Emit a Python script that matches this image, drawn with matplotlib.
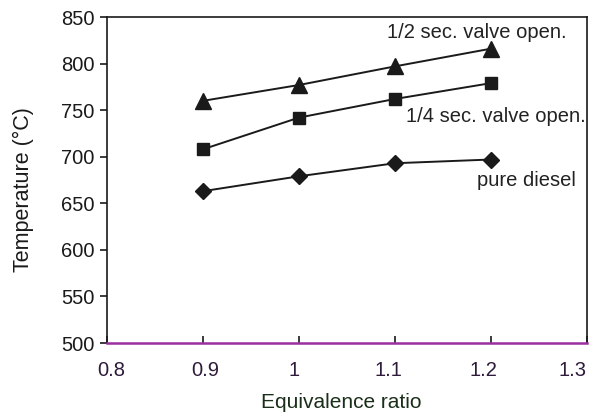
import matplotlib
matplotlib.use("Agg")
import matplotlib.pyplot as plt
from matplotlib.transforms import blended_transform_factory, offset_copy

plt.rcParams['font.family'] = ['Liberation Sans', 'DejaVu Sans']

x = [0.9, 1.0, 1.1, 1.2]
half_sec = [760, 777, 797, 816]
quarter_sec = [708, 742, 762, 779]
pure_diesel = [663, 679, 693, 697]
xticks = [0.8, 0.9, 1, 1.1, 1.2, 1.3]
xtick_labels = ['0.8', '0.9', '1', '1.1', '1.2', '1.3']
yticks = [500, 550, 600, 650, 700, 750, 800, 850]

fig = plt.figure(figsize=(5.89, 4.13), dpi=100)
ax = fig.add_axes([107/589, 1-343/413, (587-107)/589, (343-17)/413])

ink = '#1a1a1a'
ax.plot(x, half_sec, color=ink, lw=1.4, marker='^', ms=11, mfc=ink, mec=ink)
ax.plot(x, quarter_sec, color=ink, lw=1.4, marker='s', ms=8.5, mfc=ink, mec=ink)
ax.plot(x, pure_diesel, color=ink, lw=1.4, marker='D', ms=8, mfc=ink, mec=ink)

ax.text(1.0917, 833, '1/2 sec. valve open.', fontsize=14.5, color='#222', ha='left', va='center')
ax.text(1.1115, 743, '1/4 sec. valve open.', fontsize=14.5, color='#222', ha='left', va='center')
ax.text(1.1854, 675, 'pure diesel', fontsize=14.5, color='#222', ha='left', va='center')

ax.set_xlim(0.8, 1.3)
ax.set_ylim(500, 850)
ax.set_xticks(xticks)
ax.set_xticklabels([])
ax.set_yticks(yticks)
ax.tick_params(axis='x', direction='in', length=5, width=1.2, colors=ink)
ax.tick_params(axis='y', direction='out', length=5, width=1.2, labelsize=14.5, pad=4, colors=ink)

# x tick labels (scanned original shows slight drift of labels relative to ticks)
label_shift_px = [4, 2, -5, -7, -7.5, -14]
base = blended_transform_factory(ax.transData, ax.transAxes)
for xv, lab, dx in zip(xticks, xtick_labels, label_shift_px):
    tr = offset_copy(base, fig=fig, x=dx, y=-27, units='dots')
    ax.text(xv, 0, lab, transform=tr, fontsize=14.5, color='#2e1a3a',
            ha='center', va='center', clip_on=False)

for s in ['top', 'right', 'left']:
    ax.spines[s].set_color(ink)
    ax.spines[s].set_linewidth(1.2)
ax.spines['bottom'].set_color('#9a30a0')
ax.spines['bottom'].set_linewidth(1.8)

ax.set_xlabel('Equivalence ratio', fontsize=15, color='#1a2e1a')
ax.xaxis.set_label_coords((341.5-107)/480, -(402-343)/326, transform=ax.transAxes)
ax.set_ylabel('Temperature (°C)', fontsize=15.5, color=ink)
ax.yaxis.set_label_coords(-(107-23)/480, 1-(190-17)/326, transform=ax.transAxes)
ax.xaxis.label.set_va('center')
ax.yaxis.label.set_va('center')

fig.savefig('out.png', dpi=100)
